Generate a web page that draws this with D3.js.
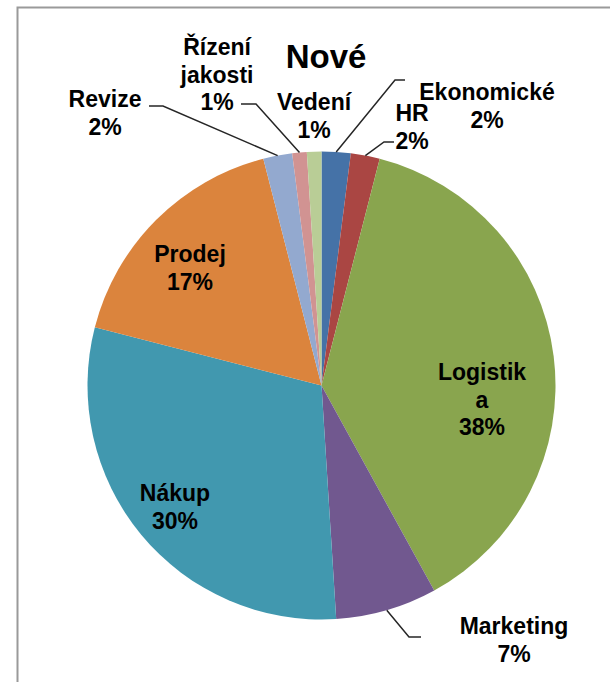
<!DOCTYPE html>
<html>
<head>
<meta charset="utf-8">
<script src="https://cdn.jsdelivr.net/npm/d3@7"></script>
<style>
  html, body { margin: 0; padding: 0; background: #fff; }
  svg { display: block; }
  text { font-family: "Liberation Sans", Arial, sans-serif; font-weight: bold; fill: #000; }
</style>
</head>
<body>
<script>
// Departments and their share of new hires (percent)
const categories = ["Ekonomické", "HR", "Logistika", "Marketing", "Nákup", "Prodej", "Revize", "Řízení jakosti", "Vedení"];
const values = [2, 2, 38, 7, 30, 17, 2, 1, 1];
const nameLines = [["Ekonomické"], ["HR"], ["Logistik", "a"], ["Marketing"], ["Nákup"], ["Prodej"], ["Revize"], ["Řízení", "jakosti"], ["Vedení"]];
const colors = ["#4572A7", "#AA4643", "#89A54E", "#71588F", "#4198AF", "#DB843D", "#93A9CF", "#D19392", "#B9CD96"];
const title = "Nové";

const W = 610, H = 682;
const cx = 321.5, cy = 385.5, R = 234;
const fontSize = 23, lineH = 27.5;

// Label block anchors (centre x, first baseline y) and leader-line geometry
const labelAnchor = [
  [487, 100], [412, 121], [482, 380], [514, 634], [175, 501],
  [190, 262], [105, 107], [217, 55], [314, 110]
];
// [elbow, end] for labels that sit outside the pie; null = no leader
const leaders = [
  [[395, 80], [405, 80]],
  [[384, 142], [394, 142]],
  null,
  [[409, 637], [421, 637]],
  null, null,
  [[163, 106], [149, 106]],
  [[256, 104], [241, 104]],
  null
];

const svg = d3.select("body").append("svg").attr("width", W).attr("height", H);

// chart frame
svg.append("rect")
  .attr("x", 17.5).attr("y", 7.5)
  .attr("width", W + 20).attr("height", H + 20)
  .attr("fill", "#fff").attr("stroke", "#9a9a9a").attr("stroke-width", 2);

const pie = d3.pie().sort(null).value(d => d)(values);
const arc = d3.arc().innerRadius(0).outerRadius(R);

const g = svg.append("g").attr("transform", `translate(${cx},${cy})`);
g.selectAll("path.slice")
  .data(pie)
  .join("path")
  .attr("class", "slice")
  .attr("d", arc)
  .attr("fill", (d, i) => colors[i]);

// leader lines from the slice edge to the label
const edge = d3.arc().innerRadius(R).outerRadius(R);
pie.forEach((d, i) => {
  const L = leaders[i];
  if (!L) return;
  const mid = (d.startAngle + d.endAngle) / 2;
  const p0 = [cx + R * Math.sin(mid), cy - R * Math.cos(mid)];
  svg.append("polyline")
    .attr("points", [p0, L[0], L[1]].map(p => p.join(",")).join(" "))
    .attr("fill", "none")
    .attr("stroke", "#262626")
    .attr("stroke-width", 1.5);
});

// data labels
pie.forEach((d, i) => {
  const [x, y] = labelAnchor[i];
  const lines = nameLines[i].concat([values[i] + "%"]);
  const t = svg.append("text")
    .attr("text-anchor", "middle")
    .attr("font-size", fontSize);
  lines.forEach((s, k) => {
    t.append("tspan").attr("x", x).attr("y", y + k * lineH).text(s);
  });
});

// title
svg.append("text")
  .attr("x", 326).attr("y", 68)
  .attr("text-anchor", "middle")
  .attr("font-size", 33)
  .text(title);
</script>
</body>
</html>
